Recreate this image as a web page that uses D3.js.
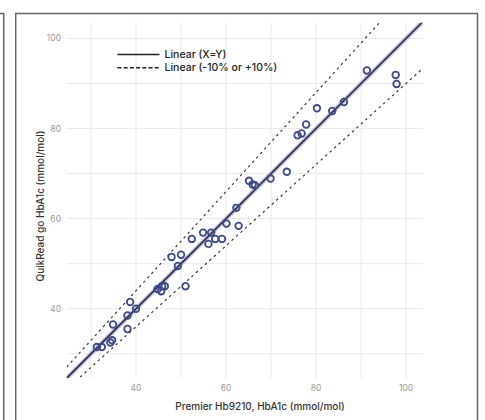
<!DOCTYPE html>
<html>
<head>
<meta charset="utf-8">
<script src="https://cdn.jsdelivr.net/npm/d3@7"></script>
<style>
  body { margin: 0; background: #fff; }
  svg { display: block; font-family: Inter, "Noto Sans", sans-serif; }
</style>
</head>
<body>
<svg id="chart" width="485" height="420"></svg>
<script>
"use strict"

// Premier Hb9210 (x) vs QuikRead go (y), both HbA1c mmol/mol
let premier = [31.3, 32.4, 34.3, 34.7, 34.9, 38.1, 38.1, 38.7, 40.0, 44.8,
               45.6, 45.8, 46.4, 51.0, 49.3, 47.9, 50.0, 52.4, 54.9, 56.1,
               56.7, 57.6, 59.1, 60.1, 62.3, 62.8, 65.1, 65.9, 66.4, 69.9,
               73.5, 75.9, 76.8, 77.8, 80.2, 83.6, 86.2, 91.3, 97.7, 97.9];
let quikread = [31.5, 31.5, 32.5, 33.0, 36.5, 35.5, 38.5, 41.5, 40.0, 44.4,
                43.9, 45.0, 45.0, 45.0, 49.5, 51.5, 52.0, 55.5, 56.9, 54.4,
                56.9, 55.5, 55.5, 58.9, 62.4, 58.4, 68.4, 67.6, 67.4, 68.9,
                70.4, 78.5, 78.9, 80.9, 84.5, 83.9, 85.9, 92.9, 91.9, 89.9];

let majorTicks = [40, 60, 80, 100];
let minorTicks = [30, 50, 70, 90];

let legendLabels = ["Linear (X=Y)", "Linear (-10% or +10%)"];

let svg = d3.select("#chart");

// panel frames (figure is a crop of a multi-panel layout)
svg.append("path")
    .attr("d", "M0,13.5 H3.7 V420")
    .attr("fill", "none")
    .attr("stroke", "#666")
    .attr("stroke-width", 1.5);
svg.append("path")
    .attr("d", "M15.7,420 V13.5 H477.5 V420")
    .attr("fill", "none")
    .attr("stroke", "#666")
    .attr("stroke-width", 1.5);

let pLeft = 66.7, pRight = 422.7, pTop = 22.7, pBottom = 378.3;

let x = d3.scaleLinear().domain([24.6, 103.7]).range([pLeft, pRight]);
let y = d3.scaleLinear().domain([24.56, 103.5]).range([pBottom, pTop]);

let plot = svg.append("g");

// gridlines
plot.selectAll(".vgrid")
    .data(minorTicks.concat(majorTicks))
    .join("line")
    .attr("x1", d => x(d)).attr("x2", d => x(d))
    .attr("y1", pTop).attr("y2", pBottom)
    .attr("stroke", "#e9e9e9")
    .attr("stroke-width", 1);
plot.selectAll(".hgrid")
    .data(minorTicks.concat(majorTicks))
    .join("line")
    .attr("y1", d => y(d)).attr("y2", d => y(d))
    .attr("x1", pLeft).attr("x2", pRight)
    .attr("stroke", "#e9e9e9")
    .attr("stroke-width", 1);

// tick labels
plot.selectAll(".xlab")
    .data(majorTicks)
    .join("text")
    .attr("x", d => x(d))
    .attr("y", 390.5)
    .attr("text-anchor", "middle")
    .attr("font-size", 8.5)
    .attr("fill", "#999")
    .text(d => d);
plot.selectAll(".ylab")
    .data(majorTicks)
    .join("text")
    .attr("x", 61)
    .attr("y", d => y(d))
    .attr("dy", "0.35em")
    .attr("text-anchor", "end")
    .attr("font-size", 8.5)
    .attr("fill", "#999")
    .text(d => d);

// reference lines, clipped to the panel
svg.append("clipPath").attr("id", "panel")
    .append("rect")
    .attr("x", pLeft).attr("y", pTop)
    .attr("width", pRight - pLeft).attr("height", pBottom - pTop);

let lines = plot.append("g").attr("clip-path", "url(#panel)");
let xs = [x.domain()[0], x.domain()[1]];
let refLine = k => d3.line().x(d => x(d)).y(d => y(d * k))(xs);

lines.append("path").attr("d", refLine(1.1))
    .attr("fill", "none").attr("stroke", "#3a3a3a")
    .attr("stroke-width", 1.2).attr("stroke-dasharray", "2.5,3.5");
lines.append("path").attr("d", refLine(0.9))
    .attr("fill", "none").attr("stroke", "#3a3a3a")
    .attr("stroke-width", 1.2).attr("stroke-dasharray", "2.5,3.5");
lines.append("path").attr("d", refLine(1))
    .attr("fill", "none").attr("stroke", "#c3c0e0")
    .attr("stroke-width", 4.5);
lines.append("path").attr("d", refLine(1))
    .attr("fill", "none").attr("stroke", "#26263d")
    .attr("stroke-width", 1.5);

// points
plot.selectAll(".pt")
    .data(premier)
    .join("circle")
    .attr("cx", d => x(d))
    .attr("cy", (d, i) => y(quikread[i]))
    .attr("r", 3.3)
    .attr("fill", "none")
    .attr("stroke", "#3b4a88")
    .attr("stroke-width", 1.8);

// legend
let legend = svg.append("g");
legend.selectAll("line")
    .data(legendLabels)
    .join("line")
    .attr("x1", 117.5).attr("x2", 159.5)
    .attr("y1", (d, i) => 54.5 + i * 13.3)
    .attr("y2", (d, i) => 54.5 + i * 13.3)
    .attr("stroke", "#222")
    .attr("stroke-width", (d, i) => i == 0 ? 1.6 : 1.4)
    .attr("stroke-dasharray", (d, i) => i == 0 ? null : "4,2.2");
legend.selectAll("text")
    .data(legendLabels)
    .join("text")
    .attr("x", 164.5)
    .attr("y", (d, i) => 54.5 + i * 13.3)
    .attr("dy", "0.35em")
    .attr("font-size", 10.5)
    .attr("font-weight", 500)
    .attr("fill", "#222")
    .text(d => d);

// axis titles
svg.append("text")
    .attr("x", 260).attr("y", 410)
    .attr("text-anchor", "middle")
    .attr("font-size", 10)
    .attr("font-weight", 500)
    .attr("fill", "#333")
    .text("Premier Hb9210, HbA1c (mmol/mol)");
svg.append("text")
    .attr("transform", "translate(43.5,206) rotate(-90)")
    .attr("text-anchor", "middle")
    .attr("font-size", 10)
    .attr("font-weight", 500)
    .attr("fill", "#333")
    .text("QuikRead go HbA1c (mmol/mol)");
</script>
</body>
</html>
